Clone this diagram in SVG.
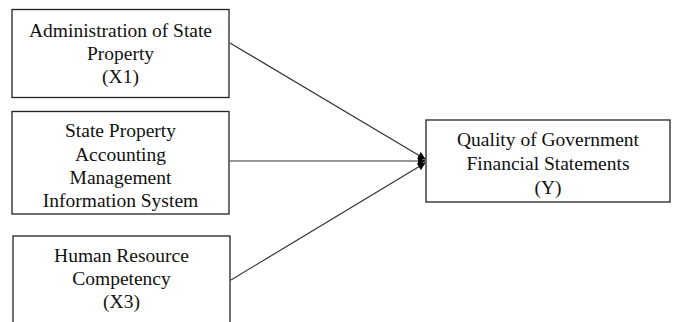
<svg xmlns="http://www.w3.org/2000/svg" width="673" height="322" viewBox="0 0 673 322">
<style>
.box{fill:#fff;stroke:#222;stroke-width:1.3}
.t{font-family:"Liberation Serif","Times New Roman",serif;font-size:19.5px;fill:#111;text-anchor:middle}
.c{stroke:#333;stroke-width:1.2;fill:none;marker-end:url(#ah)}
</style>
<defs>
<marker id="ah" viewBox="0 0 10 10" refX="9" refY="5" markerWidth="8" markerHeight="8" markerUnits="userSpaceOnUse" orient="auto">
<path d="M0,0 L10,5 L0,10 z" fill="#000"/>
</marker>
</defs>
<rect width="673" height="322" fill="#fff"/>
<g id="connectors">
<line class="c" x1="230" y1="43" x2="425" y2="159"/>
<line class="c" x1="230" y1="161" x2="425" y2="161"/>
<line class="c" x1="231" y1="280" x2="425" y2="163"/>
</g>
<g id="x1">
<rect class="box" x="12" y="9.5" width="217" height="88"/>
<text class="t" x="120.5" y="37">Administration of State</text>
<text class="t" x="120.5" y="60">Property</text>
<text class="t" x="120.5" y="83">(X1)</text>
</g>
<g id="x2">
<rect class="box" x="12" y="111.5" width="217" height="102.5"/>
<text class="t" x="120.5" y="137">State Property</text>
<text class="t" x="120.5" y="160.5">Accounting</text>
<text class="t" x="120.5" y="184">Management</text>
<text class="t" x="120.5" y="207">Information System</text>
</g>
<g id="x3">
<rect class="box" x="13" y="236" width="217" height="100"/>
<text class="t" x="121.5" y="262">Human Resource</text>
<text class="t" x="121.5" y="285">Competency</text>
<text class="t" x="121.5" y="308">(X3)</text>
</g>
<g id="y">
<rect class="box" x="426" y="120" width="244" height="82"/>
<text class="t" x="548" y="146">Quality of Government</text>
<text class="t" x="548" y="170">Financial Statements</text>
<text class="t" x="548" y="194">(Y)</text>
</g>
</svg>
